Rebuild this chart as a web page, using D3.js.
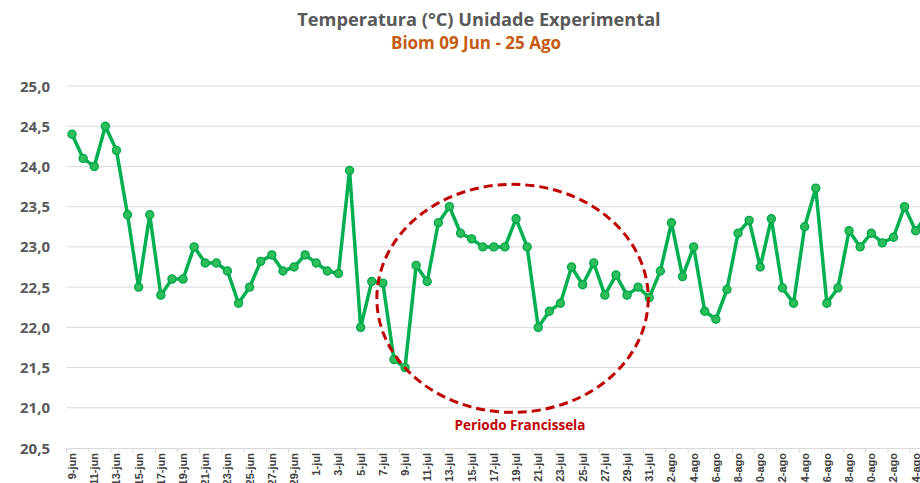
<!DOCTYPE html>
<html>
<head>
<meta charset="utf-8">
<script src="https://cdn.jsdelivr.net/npm/d3@7"></script>
<style>
  body { margin: 0; background: #fff; }
  svg { display: block; font-family: "Open Sans", sans-serif; }
</style>
</head>
<body>
<div class="chart"></div>
<script>
"use strict";

const days = [
  "9-jun","10-jun","11-jun","12-jun","13-jun","14-jun","15-jun","16-jun","17-jun","18-jun",
  "19-jun","20-jun","21-jun","22-jun","23-jun","24-jun","25-jun","26-jun","27-jun","28-jun",
  "29-jun","30-jun","1-jul","2-jul","3-jul","4-jul","5-jul","6-jul","7-jul","8-jul",
  "9-jul","10-jul","11-jul","12-jul","13-jul","14-jul","15-jul","16-jul","17-jul","18-jul",
  "19-jul","20-jul","21-jul","22-jul","23-jul","24-jul","25-jul","26-jul","27-jul","28-jul",
  "29-jul","30-jul","31-jul","1-ago","2-ago","3-ago","4-ago","5-ago","6-ago","7-ago",
  "8-ago","9-ago","10-ago","11-ago","12-ago","13-ago","14-ago","15-ago","16-ago","17-ago",
  "18-ago","19-ago","20-ago","21-ago","22-ago","23-ago","24-ago","25-ago"
];

const temperatura = [
  24.4, 24.1, 24.0, 24.5, 24.2, 23.4, 22.5, 23.4, 22.4, 22.6,
  22.6, 23.0, 22.8, 22.8, 22.7, 22.3, 22.5, 22.82, 22.9, 22.7,
  22.75, 22.9, 22.8, 22.7, 22.67, 23.95, 22.0, 22.57, 22.55, 21.6,
  21.5, 22.77, 22.57, 23.3, 23.5, 23.17, 23.1, 23.0, 23.0, 23.0,
  23.35, 23.0, 22.0, 22.2, 22.3, 22.75, 22.53, 22.8, 22.4, 22.65,
  22.4, 22.5, 22.37, 22.7, 23.3, 22.63, 23.0, 22.2, 22.1, 22.47,
  23.17, 23.33, 22.75, 23.35, 22.49, 22.3, 23.25, 23.73, 22.3, 22.49,
  23.2, 23.0, 23.17, 23.05, 23.12, 23.5, 23.2, 23.4
];

const yTicks = [20.5, 21.0, 21.5, 22.0, 22.5, 23.0, 23.5, 24.0, 24.5, 25.0];

const periodoInicio = "7-jul";
const periodoFim = "31-jul";

const config = {
  width: 920,
  height: 483,
  left: 66.5,
  bandWidth: 11.1,
  top: 86,
  bottom: 448
};

window.onload = () => main();

function main() {
  const data = days.map((d, i) => ({ day: d, value: temperatura[i] }));

  const svg = d3.select(".chart")
    .append("svg")
    .attr("width", config.width)
    .attr("height", config.height);

  const x = d3.scaleBand()
    .domain(days)
    .range([config.left, config.left + days.length * config.bandWidth])
    .padding(0);

  const y = d3.scaleLinear()
    .domain([20.5, 25])
    .range([config.bottom, config.top]);

  const cx = d => x(d) + x.bandwidth() / 2;

  // title
  svg.append("text")
    .attr("x", 479)
    .attr("y", 26)
    .attr("text-anchor", "middle")
    .attr("font-size", 18.2)
    .attr("font-weight", "bold")
    .attr("fill", "#595959")
    .text("Temperatura (°C) Unidade Experimental");

  svg.append("text")
    .attr("x", 476)
    .attr("y", 49)
    .attr("text-anchor", "middle")
    .attr("font-size", 17)
    .attr("font-weight", "bold")
    .attr("fill", "#c55a11")
    .text("Biom 09 Jun - 25 Ago");

  // grid lines
  svg.append("g")
    .selectAll("line")
    .data(yTicks.filter(t => t > 20.5))
    .join("line")
    .attr("x1", config.left)
    .attr("x2", config.width)
    .attr("y1", d => y(d))
    .attr("y2", d => y(d))
    .attr("stroke", "#d9d9d9")
    .attr("stroke-width", 1);

  // y axis labels
  const fmt = d3.format(".1f");
  svg.append("g")
    .selectAll("text")
    .data(yTicks)
    .join("text")
    .attr("x", 50)
    .attr("y", d => y(d) + 5.5)
    .attr("text-anchor", "end")
    .attr("font-size", 15)
    .attr("font-weight", "bold")
    .attr("fill", "#595959")
    .text(d => fmt(d).replace(".", ","));

  // x axis
  const xAxis = d3.axisBottom(x)
    .tickValues(days.filter((d, i) => i % 2 === 0))
    .tickSize(0)
    .tickFormat(d => d);

  const gx = svg.append("g")
    .attr("transform", `translate(0,${config.bottom})`)
    .call(xAxis);
  gx.select(".domain")
    .attr("d", `M${config.left},0.5H${config.width}`)
    .attr("stroke", "#d9d9d9");
  gx.selectAll(".tick text")
    .attr("transform", "rotate(-90)")
    .attr("y", 0)
    .attr("dy", "0.35em")
    .attr("font-family", "Liberation Sans Narrow, Liberation Sans, sans-serif")
    .attr("font-size", 11)
    .attr("font-weight", "bold")
    .attr("fill", "#404040");
  gx.selectAll(".tick text")
    .attr("x", function() { return -(5 + this.getComputedTextLength()); })
    .attr("text-anchor", "start");
  // tick marks between categories, every 2 days
  svg.append("g")
    .selectAll("line")
    .data(days.filter((d, i) => i % 2 === 0))
    .join("line")
    .attr("x1", d => x(d))
    .attr("x2", d => x(d))
    .attr("y1", config.bottom)
    .attr("y2", config.bottom + 5)
    .attr("stroke", "#d9d9d9");

  // line
  const line = d3.line()
    .x(d => cx(d.day))
    .y(d => y(d.value));

  svg.append("path")
    .datum(data)
    .attr("fill", "none")
    .attr("stroke", "#00b050")
    .attr("stroke-width", 3.5)
    .attr("stroke-linejoin", "round")
    .attr("d", line);

  svg.append("g")
    .selectAll("circle")
    .data(data)
    .join("circle")
    .attr("cx", d => cx(d.day))
    .attr("cy", d => y(d.value))
    .attr("r", 4)
    .attr("fill", "#2dbd5a")
    .attr("stroke", "#00a848")
    .attr("stroke-width", 1.4);

  // Periodo Francissela ellipse
  const ex0 = cx(periodoInicio) - 6;
  const ex1 = cx(periodoFim) - 1;
  svg.append("ellipse")
    .attr("cx", (ex0 + ex1) / 2)
    .attr("cy", y(22.36))
    .attr("rx", (ex1 - ex0) / 2)
    .attr("ry", 114)
    .attr("fill", "none")
    .attr("stroke", "#c00000")
    .attr("stroke-width", 3)
    .attr("stroke-dasharray", "9,5");

  svg.append("text")
    .attr("x", 520)
    .attr("y", 430)
    .attr("text-anchor", "middle")
    .attr("font-size", 13.5)
    .attr("font-weight", "bold")
    .attr("fill", "#c00000")
    .text("Periodo Francissela");
}
</script>
</body>
</html>
